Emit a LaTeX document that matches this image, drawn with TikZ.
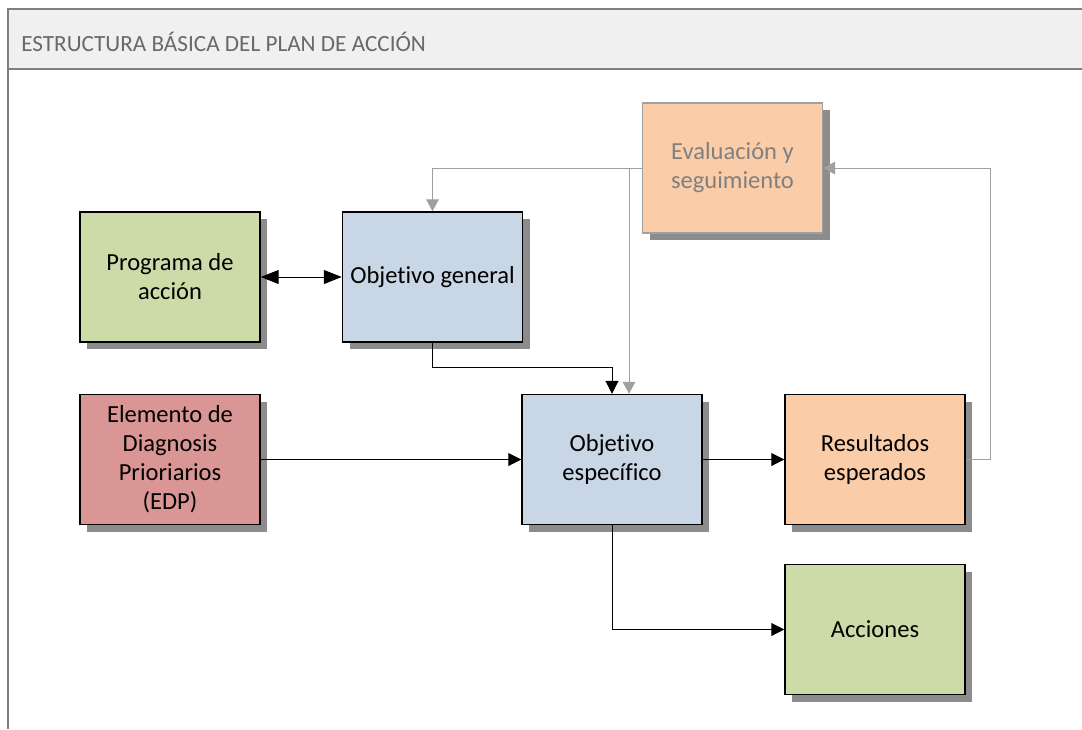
\documentclass[tikz,border=0pt]{standalone}
\usepackage{fontspec}
\setmainfont{Carlito}[Ligatures=NoCommon]
\usetikzlibrary{arrows.meta,shadows}
\definecolor{verde}{RGB}{204,219,168}
\definecolor{azul}{RGB}{201,214,229}
\definecolor{rojo}{RGB}{217,150,148}
\definecolor{naranja}{RGB}{250,204,168}
\definecolor{sombra}{RGB}{140,140,140}
\definecolor{lineagris}{RGB}{160,160,160}
\definecolor{textogris}{RGB}{128,128,128}
\definecolor{marco}{RGB}{127,127,127}
\definecolor{cabecera}{RGB}{240,240,240}
\definecolor{titulo}{RGB}{105,105,105}
\begin{document}
\begin{tikzpicture}[x=0.75pt,y=-0.75pt]
		\tikzstyle{caja}=[draw=black,line width=1.1pt,minimum width=135pt,minimum height=97.5pt,align=center,font=\fontsize{18.4}{21.75}\selectfont,inner sep=2pt,drop shadow={shadow xshift=5.25pt,shadow yshift=-5.25pt,fill=sombra,opacity=1}];
		\tikzstyle{flecha}=[draw=black,line width=0.75pt,-{Triangle[length=9.75pt,width=9.75pt]}];
		\tikzstyle{flechagris}=[draw=lineagris,line width=0.75pt,-{Triangle[length=9pt,width=9.5pt,fill=lineagris]}];
		% marco y cabecera
		\useasboundingbox (0,0) rectangle (1082,729);
		\fill[cabecera] (8,9) rectangle (1082,69);
		\draw[marco,line width=1.5pt] (1082,9) -- (8,9) -- (8,729);
		\draw[marco,line width=1.5pt] (8,69) -- (1082,69);
		\node[anchor=west,inner sep=0pt,text=titulo,font=\fontsize{17.4}{21}\selectfont] (titulo) at (21,42) {ESTRUCTURA BÁSICA DEL PLAN DE ACCIÓN};
		% cajas
		\node[caja,fill=verde] (programa) at (170,277) {Programa de\\acción};
		\node[caja,fill=azul] (objgen) at (432.5,277) {Objetivo general};
		\node[caja,fill=naranja,draw=lineagris,line width=0.9pt,text=textogris] (eval) at (732.5,168) {Evaluación y\\seguimiento};
		\node[caja,fill=rojo] (edp) at (170,459.5) {Elemento de\\Diagnosis\\Prioriarios\\(EDP)};
		\node[caja,fill=azul] (objesp) at (612,459.5) {Objetivo\\específico};
		\node[caja,fill=naranja] (res) at (875,459.5) {Resultados\\esperados};
		\node[caja,fill=verde] (acc) at (875,629.5) {Acciones};
		% conectores
		\draw[flecha,{Triangle[length=13.5pt,width=10.5pt]}-{Triangle[length=13.5pt,width=10.5pt]}] (programa) -- (objgen);
		\draw[flecha] (objgen.south) -- ++(0,25) -| (objesp.north);
		\draw[flecha] (edp) -- (objesp);
		\draw[flecha] (objesp) -- (res);
		\draw[flecha] (objesp.south) |- (acc.west);
		\draw[flechagris] (eval.west) -| (objgen.north);
		\coordinate (entrada) at ([xshift=12.75pt]objesp.north);
		\draw[flechagris] (entrada |- eval.west) -- (entrada);
		\draw[flechagris] (res.east) -- ++(25,0) |- (eval.east);
\end{tikzpicture}
\end{document}
